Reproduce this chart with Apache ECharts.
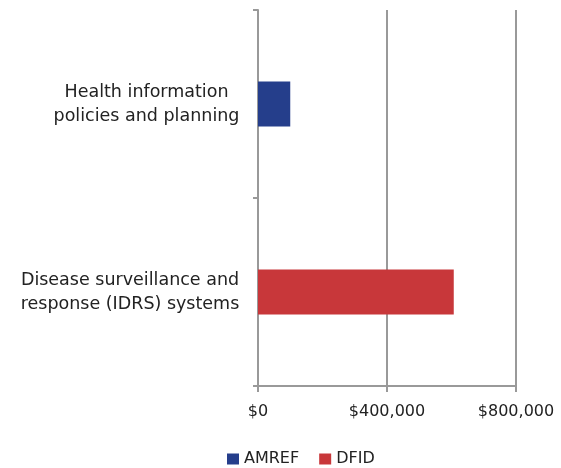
<!DOCTYPE html>
<html><head><meta charset="utf-8">
<script src="https://cdn.jsdelivr.net/npm/echarts@6/dist/echarts.min.js"></script>
<style>html,body{margin:0;padding:0;background:#fff}#c{width:561px;height:468px}</style>
</head><body><div id="c"></div>
<script>
const categories = ['Disease surveillance and\nresponse (IDRS) systems', 'Health information\npolicies and planning'];
const amref = [0, 100000];
const dfid = [607000, 0];
const xTicks = [0, 400000, 800000];

const font = 'DejaVu Sans';
const catFontSize = 17.5;
// measure the longest line of each category label so lines can be centred within the block
const ctx = document.createElement('canvas').getContext('2d');
ctx.font = catFontSize + 'px "' + font + '"';
const rich = {};
categories.forEach((c, i) => {
  const w = Math.max(...c.split('\n').map(l => ctx.measureText(l).width));
  rich['c' + i] = {width: Math.ceil(w) + 1, align: 'center', fontFamily: font, fontSize: catFontSize, color: '#222', lineHeight: 24};
});

const chart = echarts.init(document.getElementById('c'));
chart.setOption({
  animation: false,
  grid: {left: 258, right: 45, top: 10, bottom: 82, containLabel: false},
  legend: {
    top: 446, left: 222, itemWidth: 12, itemHeight: 11, itemGap: 20,
    icon: 'rect',
    textStyle: {fontFamily: font, fontSize: 16, color: '#222'},
    data: ['AMREF', 'DFID']
  },
  xAxis: {
    type: 'value', min: xTicks[0], max: xTicks[xTicks.length-1], interval: 400000,
    axisLine: {show: true, lineStyle: {color: '#999', width: 2}},
    axisTick: {show: true, length: 6, lineStyle: {color: '#999', width: 2}},
    splitLine: {show: true, lineStyle: {color: '#999', width: 2}},
    axisLabel: {
      fontFamily: font, fontSize: 16, color: '#222', margin: 18,
      formatter: v => '$' + v.toLocaleString('en-US')
    }
  },
  yAxis: {
    type: 'category', data: categories,
    axisLine: {show: true, lineStyle: {color: '#999', width: 2}},
    axisTick: {show: true, length: 5, lineStyle: {color: '#999', width: 2}},
    axisLabel: {
      margin: 18, rich: rich,
      formatter: (v, i) => v.split('\n').map(l => '{c' + i + '|' + l + '}').join('\n')
    }
  },
  series: [
    {name: 'AMREF', type: 'bar', stack: 's', data: amref, barWidth: '24%', itemStyle: {color: '#253E8B'}},
    {name: 'DFID', type: 'bar', stack: 's', data: dfid, barWidth: '24%', itemStyle: {color: '#C8373A'}}
  ]
});
</script></body></html>
